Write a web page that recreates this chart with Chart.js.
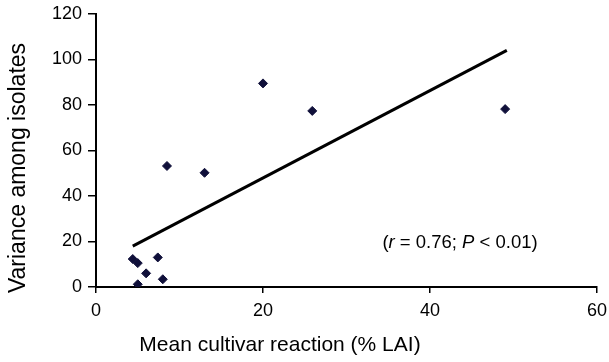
<!DOCTYPE html>
<html>
<head>
<meta charset="utf-8">
<script src="https://cdn.jsdelivr.net/npm/chart.js@4/dist/chart.umd.min.js"></script>
<style>
html,body{margin:0;padding:0;background:#fff;}
#wrap{width:609px;height:362px;position:relative;}
</style>
</head>
<body>
<div id="wrap"><canvas id="c"></canvas></div>
<script>
// Observed isolates: mean cultivar reaction (% LAI) and variance among isolates
const meanReaction = [4.4, 5.0, 7.4, 6.0, 8.0, 5.0, 8.5, 13.0, 20.0, 25.9, 49.0];
const varianceAmong = [12.3, 10.5, 13.0, 6.0, 3.4, 1.2, 53.2, 50.2, 89.5, 77.4, 78.2];
// Regression line end points
const fitX = [4.4, 49.2];
const fitY = [18.0, 104.0];
const xTicks = [0, 20, 40, 60];
const yTicks = [0, 20, 40, 60, 80, 100, 120];
const xTitle = 'Mean cultivar reaction (% LAI)';
const yTitle = 'Variance among isolates';
const annotationParts = [["(", false], ["r", true], [" = 0.76; ", false], ["P", true], [" < 0.01)", false]];

const FONT = '"Liberation Sans", Arial, sans-serif';
const pts = meanReaction.map((x, i) => ({x: x, y: varianceAmong[i]}));
const fit = fitX.map((x, i) => ({x: x, y: fitY[i]}));

const extras = {
  id: 'extras',
  afterDatasetsDraw(chart) {
    const ctx = chart.ctx;
    const xs = chart.scales.x, ys = chart.scales.y;
    ctx.save();
    ctx.fillStyle = '#000';
    ctx.textBaseline = 'middle';
    ctx.textAlign = 'left';
    // annotation
    let x = xs.getPixelForValue(34.3);
    const y = ys.getPixelForValue(19.5);
    for (const [t, it] of annotationParts) {
      ctx.font = (it ? 'italic ' : '') + '18.5px ' + FONT;
      ctx.fillText(t, x, y);
      x += ctx.measureText(t).width;
    }
    // x title
    ctx.textAlign = 'center';
    ctx.font = '21px ' + FONT;
    ctx.fillText(xTitle, 280, 345);
    // y title
    ctx.translate(19, 168);
    ctx.rotate(-Math.PI / 2);
    ctx.font = '23px ' + FONT;
    ctx.fillText(yTitle, 0, 0);
    ctx.restore();
  }
};

new Chart(document.getElementById('c'), {
  type: 'scatter',
  data: {
    datasets: [
      {
        type: 'scatter',
        data: pts,
        pointStyle: 'rectRot',
        pointRadius: 4.5,
        backgroundColor: '#10103a',
        borderColor: '#10103a',
        borderWidth: 1
      },
      {
        type: 'line',
        data: fit,
        borderColor: '#000',
        borderWidth: 3,
        pointRadius: 0,
        fill: false
      }
    ]
  },
  options: {
    responsive: true,
    maintainAspectRatio: false,
    animation: false,
    layout: {padding: {top: 14, right: 12, left: 0, bottom: 0}},
    plugins: {legend: {display: false}, tooltip: {enabled: false}},
    scales: {
      x: {
        type: 'linear',
        min: 0, max: 60,
        afterBuildTicks(s) { s.ticks = xTicks.map(v => ({value: v})); },
        afterFit(s) { s.height = 75; s.paddingRight = 0; s.paddingLeft = 0; },
        grid: {display: true, drawOnChartArea: false, drawTicks: true, tickLength: 6, color: '#000', lineWidth: 1.5},
        border: {display: true, color: '#000', width: 2},
        ticks: {color: '#000', font: {family: FONT, size: 18}, padding: 7, maxRotation: 0},
        title: {display: false}
      },
      y: {
        type: 'linear',
        min: 0, max: 120,
        afterBuildTicks(s) { s.ticks = yTicks.map(v => ({value: v})); },
        afterFit(s) { s.width = 96; s.paddingTop = 0; s.paddingBottom = 0; },
        grid: {display: true, drawOnChartArea: false, drawTicks: true, tickLength: 8, color: '#000', lineWidth: 1.5},
        border: {display: true, color: '#000', width: 2},
        ticks: {color: '#000', font: {family: FONT, size: 18}, padding: 6},
        title: {display: false}
      }
    }
  },
  plugins: [extras]
});
</script>
</body>
</html>
